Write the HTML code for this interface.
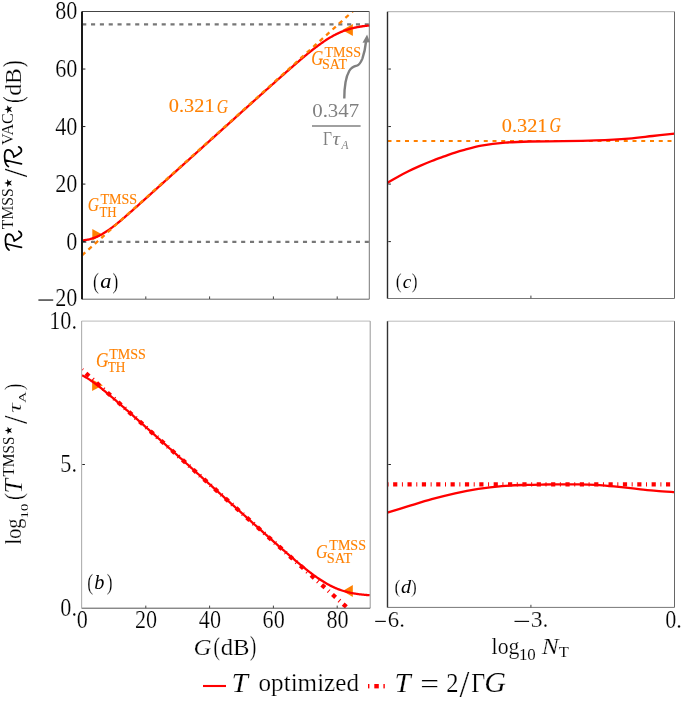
<!DOCTYPE html><html><head><meta charset="utf-8"><style>html,body{margin:0;padding:0;background:#fff;overflow:hidden}svg{display:block;will-change:transform}text{font-family:"Liberation Serif",serif}text.k{stroke:#fff;stroke-width:0.22px}text.k2{stroke:#fff;stroke-width:0.08px}text.o{stroke:#ff8000;stroke-width:0.1px}</style></head><body>
<svg width="685" height="707" viewBox="0 0 685 707">
<rect width="685" height="707" fill="#fff"/>
<defs>
<clipPath id="ca"><rect x="82" y="11.5" width="287.8" height="287.5"/></clipPath>
<clipPath id="cb"><rect x="82" y="321.3" width="288.2" height="286.9"/></clipPath>
<clipPath id="cc"><rect x="387.4" y="11.5" width="287.2" height="286.8"/></clipPath>
<clipPath id="cd"><rect x="387.4" y="321.3" width="287.2" height="286.2"/></clipPath>
</defs>
<g clip-path="url(#ca)">
<path d="M92.3,229 L92.3,240.5 L102.8,234.75 Z" fill="#ff8000"/>
<path d="M342.3,29.9 L352.9,23.9 L352.9,35.9 Z" fill="#ff8000"/>
<line x1="82.2" y1="24.45" x2="370" y2="24.45" stroke="#777" stroke-width="2.2" stroke-dasharray="4.1 4.73"/>
<line x1="82.2" y1="241.85" x2="370" y2="241.85" stroke="#777" stroke-width="2.1" stroke-dasharray="4.1 4.73"/>
<path d="M82,240.41 L82.8,240.36 L83.59,240.29 L84.39,240.19 L85.19,240.09 L85.99,239.96 L86.78,239.83 L87.58,239.67 L88.38,239.51 L89.18,239.32 L89.97,239.13 L90.77,238.91 L91.57,238.69 L92.37,238.44 L93.16,238.18 L93.96,237.9 L94.76,237.61 L95.56,237.3 L96.36,236.97 L97.15,236.63 L97.95,236.27 L98.75,235.89 L99.55,235.5 L100.34,235.09 L101.14,234.67 L101.94,234.23 L102.73,233.77 L103.53,233.3 L104.33,232.82 L105.13,232.32 L105.92,231.81 L106.72,231.29 L107.52,230.75 L108.32,230.2 L109.11,229.64 L109.91,229.07 L110.71,228.49 L111.51,227.91 L112.31,227.31 L113.1,226.7 L113.9,226.08 L114.7,225.46 L115.5,224.83 L116.29,224.2 L117.09,223.55 L117.89,222.9 L118.69,222.25 L119.48,221.59 L120.28,220.93 L121.08,220.26 L121.88,219.58 L122.67,218.91 L123.47,218.23 L124.27,217.55 L125.06,216.86 L125.86,216.17 L126.66,215.48 L127.46,214.78 L128.25,214.09 L129.05,213.39 L129.85,212.69 L130.65,211.99 L131.44,211.28 L132.24,210.58 L133.04,209.87 L133.84,209.17 L134.63,208.46 L135.43,207.75 L136.23,207.04 L137.03,206.33 L137.82,205.61 L138.62,204.9 L139.42,204.19 L140.22,203.47 L141.01,202.76 L141.81,202.04 L142.61,201.33 L143.41,200.61 L144.2,199.9 L145,199.18 L145.8,198.46 L146.6,197.75 L147.39,197.03 L148.19,196.31 L148.99,195.59 L149.79,194.87 L150.58,194.16 L151.38,193.44 L152.18,192.72 L152.98,192 L153.78,191.28 L154.57,190.56 L155.37,189.84 L156.17,189.13 L156.97,188.41 L157.76,187.69 L158.56,186.97 L159.36,186.25 L160.16,185.53 L160.95,184.81 L161.75,184.09 L162.55,183.37 L163.34,182.65 L164.14,181.93 L164.94,181.22 L165.74,180.5 L166.53,179.78 L167.33,179.06 L168.13,178.34 L168.93,177.62 L169.72,176.9 L170.52,176.18 L171.32,175.46 L172.12,174.74 L172.91,174.02 L173.71,173.3 L174.51,172.58 L175.31,171.86 L176.11,171.15 L176.9,170.43 L177.7,169.71 L178.5,168.99 L179.3,168.27 L180.09,167.55 L180.89,166.83 L181.69,166.11 L182.49,165.39 L183.28,164.67 L184.08,163.95 L184.88,163.23 L185.68,162.51 L186.47,161.8 L187.27,161.08 L188.07,160.36 L188.87,159.64 L189.66,158.92 L190.46,158.2 L191.26,157.48 L192.06,156.76 L192.85,156.04 L193.65,155.32 L194.45,154.6 L195.25,153.88 L196.04,153.17 L196.84,152.45 L197.64,151.73 L198.44,151.01 L199.23,150.29 L200.03,149.57 L200.83,148.85 L201.62,148.13 L202.42,147.41 L203.22,146.69 L204.02,145.98 L204.81,145.26 L205.61,144.54 L206.41,143.82 L207.21,143.1 L208,142.38 L208.8,141.66 L209.6,140.94 L210.4,140.22 L211.19,139.5 L211.99,138.79 L212.79,138.07 L213.59,137.35 L214.38,136.63 L215.18,135.91 L215.98,135.19 L216.78,134.47 L217.57,133.75 L218.37,133.03 L219.17,132.31 L219.97,131.6 L220.76,130.88 L221.56,130.16 L222.36,129.44 L223.16,128.72 L223.95,128 L224.75,127.28 L225.55,126.56 L226.35,125.84 L227.15,125.13 L227.94,124.41 L228.74,123.69 L229.54,122.97 L230.34,122.25 L231.13,121.53 L231.93,120.81 L232.73,120.09 L233.53,119.38 L234.32,118.66 L235.12,117.94 L235.92,117.22 L236.72,116.5 L237.51,115.78 L238.31,115.06 L239.11,114.35 L239.91,113.63 L240.7,112.91 L241.5,112.19 L242.3,111.47 L243.09,110.75 L243.89,110.04 L244.69,109.32 L245.49,108.6 L246.28,107.88 L247.08,107.16 L247.88,106.45 L248.68,105.73 L249.47,105.01 L250.27,104.29 L251.07,103.57 L251.87,102.86 L252.66,102.14 L253.46,101.42 L254.26,100.7 L255.06,99.99 L255.85,99.27 L256.65,98.55 L257.45,97.83 L258.25,97.12 L259.04,96.4 L259.84,95.68 L260.64,94.97 L261.44,94.25 L262.24,93.53 L263.03,92.82 L263.83,92.1 L264.63,91.39 L265.42,90.67 L266.22,89.96 L267.02,89.24 L267.82,88.53 L268.62,87.81 L269.41,87.1 L270.21,86.38 L271.01,85.67 L271.81,84.95 L272.6,84.24 L273.4,83.53 L274.2,82.82 L275,82.1 L275.79,81.39 L276.59,80.68 L277.39,79.97 L278.19,79.26 L278.98,78.55 L279.78,77.84 L280.58,77.13 L281.38,76.42 L282.17,75.71 L282.97,75.01 L283.77,74.3 L284.56,73.6 L285.36,72.89 L286.16,72.19 L286.96,71.48 L287.75,70.78 L288.55,70.08 L289.35,69.38 L290.15,68.68 L290.94,67.98 L291.74,67.29 L292.54,66.59 L293.34,65.9 L294.13,65.2 L294.93,64.51 L295.73,63.82 L296.53,63.13 L297.32,62.45 L298.12,61.76 L298.92,61.08 L299.72,60.4 L300.51,59.72 L301.31,59.05 L302.11,58.37 L302.91,57.7 L303.7,57.03 L304.5,56.37 L305.3,55.7 L306.1,55.04 L306.89,54.39 L307.69,53.73 L308.49,53.08 L309.29,52.44 L310.09,51.8 L310.88,51.16 L311.68,50.52 L312.48,49.89 L313.27,49.27 L314.07,48.65 L314.87,48.03 L315.67,47.42 L316.47,46.82 L317.26,46.22 L318.06,45.63 L318.86,45.04 L319.65,44.46 L320.45,43.89 L321.25,43.32 L322.05,42.76 L322.85,42.21 L323.64,41.66 L324.44,41.12 L325.24,40.59 L326.03,40.07 L326.83,39.56 L327.63,39.05 L328.43,38.56 L329.23,38.07 L330.02,37.59 L330.82,37.12 L331.62,36.66 L332.41,36.21 L333.21,35.77 L334.01,35.34 L334.81,34.92 L335.61,34.51 L336.4,34.11 L337.2,33.72 L338,33.35 L338.8,32.98 L339.59,32.62 L340.39,32.27 L341.19,31.93 L341.99,31.6 L342.78,31.29 L343.58,30.98 L344.38,30.68 L345.18,30.4 L345.97,30.12 L346.77,29.85 L347.57,29.59 L348.37,29.35 L349.16,29.11 L349.96,28.88 L350.76,28.66 L351.56,28.44 L352.35,28.24 L353.15,28.04 L353.95,27.86 L354.75,27.68 L355.54,27.5 L356.34,27.34 L357.14,27.18 L357.94,27.03 L358.73,26.89 L359.53,26.75 L360.33,26.62 L361.12,26.5 L361.92,26.38 L362.72,26.26 L363.52,26.15 L364.31,26.05 L365.11,25.95 L365.91,25.86 L366.71,25.77 L367.5,25.69 L368.3,25.61 L369.1,25.53 L369.74,25.47" fill="none" stroke="#ff0000" stroke-width="2.3" stroke-linejoin="round"/>
<line x1="82" y1="255.4" x2="362.72" y2="2.32" stroke="#ff8000" stroke-width="2.3" stroke-dasharray="4.4 4.25"/>
</g>
<g clip-path="url(#cb)">
<path d="M92.1,379.6 L92.1,391.1 L102.9,385.35 Z" fill="#ff8000"/>
<path d="M342.7,590.9 L352.8,585.1 L352.8,597 Z" fill="#ff8000"/>
<line x1="82" y1="369.8" x2="348.11" y2="608.5" stroke="#ff0000" stroke-width="4.3" stroke-dasharray="1 4.6 4.2 4.6" stroke-dashoffset="0.3"/>
<path d="M82,375.3 L82.8,375.68 L83.59,376.08 L84.39,376.51 L85.19,376.94 L85.99,377.4 L86.78,377.87 L87.58,378.36 L88.38,378.86 L89.18,379.37 L89.97,379.9 L90.77,380.43 L91.57,380.98 L92.37,381.54 L93.16,382.11 L93.96,382.68 L94.76,383.27 L95.56,383.86 L96.36,384.46 L97.15,385.07 L97.95,385.68 L98.75,386.3 L99.55,386.93 L100.34,387.56 L101.14,388.2 L101.94,388.84 L102.73,389.48 L103.53,390.13 L104.33,390.79 L105.13,391.44 L105.92,392.1 L106.72,392.77 L107.52,393.44 L108.32,394.11 L109.11,394.78 L109.91,395.45 L110.71,396.13 L111.51,396.81 L112.31,397.5 L113.1,398.18 L113.9,398.87 L114.7,399.55 L115.5,400.24 L116.29,400.93 L117.09,401.63 L117.89,402.32 L118.69,403.02 L119.48,403.71 L120.28,404.41 L121.08,405.11 L121.88,405.81 L122.67,406.51 L123.47,407.21 L124.27,407.91 L125.06,408.62 L125.86,409.32 L126.66,410.03 L127.46,410.73 L128.25,411.44 L129.05,412.14 L129.85,412.85 L130.65,413.56 L131.44,414.27 L132.24,414.97 L133.04,415.68 L133.84,416.39 L134.63,417.1 L135.43,417.81 L136.23,418.52 L137.03,419.23 L137.82,419.94 L138.62,420.66 L139.42,421.37 L140.22,422.08 L141.01,422.79 L141.81,423.5 L142.61,424.21 L143.41,424.93 L144.2,425.64 L145,426.35 L145.8,427.07 L146.6,427.78 L147.39,428.49 L148.19,429.21 L148.99,429.92 L149.79,430.63 L150.58,431.35 L151.38,432.06 L152.18,432.77 L152.98,433.49 L153.78,434.2 L154.57,434.92 L155.37,435.63 L156.17,436.34 L156.97,437.06 L157.76,437.77 L158.56,438.49 L159.36,439.2 L160.16,439.92 L160.95,440.63 L161.75,441.35 L162.55,442.06 L163.34,442.78 L164.14,443.49 L164.94,444.21 L165.74,444.92 L166.53,445.64 L167.33,446.35 L168.13,447.06 L168.93,447.78 L169.72,448.49 L170.52,449.21 L171.32,449.92 L172.12,450.64 L172.91,451.36 L173.71,452.07 L174.51,452.79 L175.31,453.5 L176.11,454.22 L176.9,454.93 L177.7,455.65 L178.5,456.36 L179.3,457.08 L180.09,457.79 L180.89,458.51 L181.69,459.22 L182.49,459.94 L183.28,460.65 L184.08,461.37 L184.88,462.08 L185.68,462.8 L186.47,463.51 L187.27,464.23 L188.07,464.94 L188.87,465.66 L189.66,466.37 L190.46,467.09 L191.26,467.8 L192.06,468.52 L192.85,469.24 L193.65,469.95 L194.45,470.67 L195.25,471.38 L196.04,472.1 L196.84,472.81 L197.64,473.53 L198.44,474.24 L199.23,474.96 L200.03,475.67 L200.83,476.39 L201.62,477.1 L202.42,477.82 L203.22,478.53 L204.02,479.25 L204.81,479.96 L205.61,480.68 L206.41,481.39 L207.21,482.11 L208,482.83 L208.8,483.54 L209.6,484.26 L210.4,484.97 L211.19,485.69 L211.99,486.4 L212.79,487.12 L213.59,487.83 L214.38,488.55 L215.18,489.26 L215.98,489.98 L216.78,490.69 L217.57,491.41 L218.37,492.12 L219.17,492.84 L219.97,493.55 L220.76,494.27 L221.56,494.98 L222.36,495.7 L223.16,496.41 L223.95,497.13 L224.75,497.84 L225.55,498.56 L226.35,499.27 L227.15,499.99 L227.94,500.7 L228.74,501.42 L229.54,502.13 L230.34,502.85 L231.13,503.56 L231.93,504.28 L232.73,504.99 L233.53,505.71 L234.32,506.42 L235.12,507.14 L235.92,507.85 L236.72,508.57 L237.51,509.28 L238.31,510 L239.11,510.71 L239.91,511.43 L240.7,512.14 L241.5,512.86 L242.3,513.57 L243.09,514.29 L243.89,515 L244.69,515.71 L245.49,516.43 L246.28,517.14 L247.08,517.86 L247.88,518.57 L248.68,519.28 L249.47,520 L250.27,520.71 L251.07,521.43 L251.87,522.14 L252.66,522.85 L253.46,523.57 L254.26,524.28 L255.06,524.99 L255.85,525.7 L256.65,526.42 L257.45,527.13 L258.25,527.84 L259.04,528.56 L259.84,529.27 L260.64,529.98 L261.44,530.69 L262.24,531.4 L263.03,532.11 L263.83,532.83 L264.63,533.54 L265.42,534.25 L266.22,534.96 L267.02,535.67 L267.82,536.38 L268.62,537.09 L269.41,537.79 L270.21,538.5 L271.01,539.21 L271.81,539.92 L272.6,540.63 L273.4,541.33 L274.2,542.04 L275,542.75 L275.79,543.45 L276.59,544.16 L277.39,544.86 L278.19,545.56 L278.98,546.27 L279.78,546.97 L280.58,547.67 L281.38,548.37 L282.17,549.07 L282.97,549.77 L283.77,550.47 L284.56,551.16 L285.36,551.86 L286.16,552.55 L286.96,553.25 L287.75,553.94 L288.55,554.63 L289.35,555.32 L290.15,556.01 L290.94,556.69 L291.74,557.38 L292.54,558.06 L293.34,558.74 L294.13,559.42 L294.93,560.1 L295.73,560.77 L296.53,561.45 L297.32,562.12 L298.12,562.78 L298.92,563.45 L299.72,564.11 L300.51,564.77 L301.31,565.43 L302.11,566.08 L302.91,566.73 L303.7,567.38 L304.5,568.02 L305.3,568.66 L306.1,569.29 L306.89,569.92 L307.69,570.55 L308.49,571.17 L309.29,571.79 L310.09,572.4 L310.88,573.01 L311.68,573.61 L312.48,574.21 L313.27,574.8 L314.07,575.38 L314.87,575.96 L315.67,576.53 L316.47,577.09 L317.26,577.65 L318.06,578.2 L318.86,578.74 L319.65,579.28 L320.45,579.81 L321.25,580.33 L322.05,580.84 L322.85,581.34 L323.64,581.83 L324.44,582.32 L325.24,582.79 L326.03,583.26 L326.83,583.72 L327.63,584.16 L328.43,584.6 L329.23,585.03 L330.02,585.45 L330.82,585.86 L331.62,586.25 L332.41,586.64 L333.21,587.02 L334.01,587.39 L334.81,587.74 L335.61,588.09 L336.4,588.43 L337.2,588.75 L338,589.07 L338.8,589.37 L339.59,589.67 L340.39,589.95 L341.19,590.23 L341.99,590.5 L342.78,590.75 L343.58,591 L344.38,591.24 L345.18,591.47 L345.97,591.69 L346.77,591.9 L347.57,592.1 L348.37,592.3 L349.16,592.48 L349.96,592.66 L350.76,592.83 L351.56,593 L352.35,593.16 L353.15,593.31 L353.95,593.45 L354.75,593.59 L355.54,593.72 L356.34,593.84 L357.14,593.96 L357.94,594.07 L358.73,594.18 L359.53,594.28 L360.33,594.38 L361.12,594.47 L361.92,594.56 L362.72,594.64 L363.52,594.72 L364.31,594.8 L365.11,594.87 L365.91,594.94 L366.71,595 L367.5,595.07 L368.3,595.12 L369.1,595.18 L369.74,595.22" fill="none" stroke="#ff0000" stroke-width="2.3" stroke-linejoin="round"/>
</g>
<g clip-path="url(#cc)">
<line x1="387.5" y1="141" x2="675" y2="141" stroke="#ff8000" stroke-width="2.2" stroke-dasharray="4 4.75"/>
<path d="M387.3,183 C388.87,182.07 393.18,179.35 396.7,177.4 C400.22,175.45 404.52,173.22 408.4,171.3 C412.28,169.38 416.12,167.62 420,165.9 C423.88,164.18 427.8,162.53 431.7,161 C435.6,159.47 439.5,158.1 443.4,156.7 C447.3,155.3 451.6,153.73 455.1,152.6 C458.6,151.47 460.03,151.05 464.4,149.9 C468.77,148.75 474.47,146.92 481.3,145.7 C488.13,144.48 497.28,143.3 505.4,142.6 C513.52,141.9 520.43,141.73 530,141.5 C539.57,141.27 551.85,141.38 562.8,141.2 C573.75,141.02 584.75,140.83 595.7,140.4 C606.65,139.97 619.02,139.33 628.5,138.6 C637.98,137.87 644.92,136.83 652.6,136 C660.28,135.17 670.93,134 674.6,133.6" fill="none" stroke="#ff0000" stroke-width="2.3"/>
</g>
<g clip-path="url(#cd)">
<line x1="387.55" y1="484.3" x2="675" y2="484.3" stroke="#ff0000" stroke-width="4.3" stroke-dasharray="1 4.58 4.2 4.58"/>
<path d="M387.3,512.7 C390.82,511.62 401,508.45 408.4,506.2 C415.8,503.95 423.92,501.35 431.7,499.2 C439.48,497.05 447.32,495.02 455.1,493.3 C462.88,491.58 470.62,490.1 478.4,488.9 C486.18,487.7 494,486.77 501.8,486.1 C509.6,485.43 518,485.17 525.2,484.9 C532.4,484.63 539.2,484.58 545,484.5 C550.8,484.42 554.58,484.42 560,484.4 C565.42,484.38 571.67,484.33 577.5,484.4 C583.33,484.47 589.75,484.53 595,484.8 C600.25,485.07 604.62,485.6 609,486 C613.38,486.4 616.33,486.68 621.3,487.2 C626.27,487.72 632.95,488.48 638.8,489.1 C644.65,489.72 650.43,490.4 656.4,490.9 C662.37,491.4 671.57,491.9 674.6,492.1" fill="none" stroke="#ff0000" stroke-width="2.3"/>
</g>
<line x1="82" y1="11.5" x2="369.3" y2="11.5" stroke="#444" stroke-width="1"/>
<line x1="369.3" y1="11.5" x2="369.3" y2="299.2" stroke="#777" stroke-width="1"/>
<line x1="82" y1="299.2" x2="369.3" y2="299.2" stroke="#666" stroke-width="1"/>
<line x1="82" y1="11.5" x2="82" y2="299.2" stroke="#1a1a1a" stroke-width="2"/>
<line x1="81.6" y1="321.1" x2="370.2" y2="321.1" stroke="#bbb" stroke-width="1"/>
<line x1="370.2" y1="321.1" x2="370.2" y2="608.2" stroke="#999" stroke-width="1"/>
<line x1="81.6" y1="608.2" x2="370.2" y2="608.2" stroke="#555" stroke-width="1"/>
<line x1="81.6" y1="321.1" x2="81.6" y2="608.2" stroke="#b0b0b0" stroke-width="1.1"/>
<line x1="387.5" y1="11.7" x2="674.5" y2="11.7" stroke="#aaa" stroke-width="1"/>
<line x1="674.5" y1="11.7" x2="674.5" y2="298.5" stroke="#666" stroke-width="1"/>
<line x1="387.5" y1="298.5" x2="674.5" y2="298.5" stroke="#777" stroke-width="1"/>
<line x1="387.5" y1="11.7" x2="387.5" y2="298.5" stroke="#2a2a2a" stroke-width="1.4"/>
<line x1="387.5" y1="321.2" x2="674.5" y2="321.2" stroke="#bbb" stroke-width="1"/>
<line x1="674.5" y1="321.2" x2="674.5" y2="607.4" stroke="#666" stroke-width="1"/>
<line x1="387.5" y1="607.4" x2="674.5" y2="607.4" stroke="#777" stroke-width="1"/>
<line x1="387.5" y1="321.2" x2="387.5" y2="607.4" stroke="#333" stroke-width="1.4"/>
<line x1="82.8" y1="69.04" x2="85.4" y2="69.04" stroke="#222" stroke-width="1"/>
<line x1="388.3" y1="69.04" x2="390.9" y2="69.04" stroke="#222" stroke-width="1"/>
<line x1="82.8" y1="126.56" x2="85.4" y2="126.56" stroke="#222" stroke-width="1"/>
<line x1="388.3" y1="126.56" x2="390.9" y2="126.56" stroke="#222" stroke-width="1"/>
<line x1="82.8" y1="184.08" x2="85.4" y2="184.08" stroke="#222" stroke-width="1"/>
<line x1="388.3" y1="184.08" x2="390.9" y2="184.08" stroke="#222" stroke-width="1"/>
<line x1="82.8" y1="241.6" x2="85.4" y2="241.6" stroke="#222" stroke-width="1"/>
<line x1="388.3" y1="241.6" x2="390.9" y2="241.6" stroke="#222" stroke-width="1"/>
<line x1="82.3" y1="464.5" x2="84.9" y2="464.5" stroke="#222" stroke-width="1"/>
<line x1="388.3" y1="464.5" x2="390.9" y2="464.5" stroke="#222" stroke-width="1"/>
<line x1="145.8" y1="299" x2="145.8" y2="296.4" stroke="#444" stroke-width="1"/>
<line x1="145.8" y1="608.2" x2="145.8" y2="605.6" stroke="#444" stroke-width="1"/>
<line x1="209.6" y1="299" x2="209.6" y2="296.4" stroke="#444" stroke-width="1"/>
<line x1="209.6" y1="608.2" x2="209.6" y2="605.6" stroke="#444" stroke-width="1"/>
<line x1="273.4" y1="299" x2="273.4" y2="296.4" stroke="#444" stroke-width="1"/>
<line x1="273.4" y1="608.2" x2="273.4" y2="605.6" stroke="#444" stroke-width="1"/>
<line x1="337.2" y1="299" x2="337.2" y2="296.4" stroke="#444" stroke-width="1"/>
<line x1="337.2" y1="608.2" x2="337.2" y2="605.6" stroke="#444" stroke-width="1"/>
<line x1="530.91" y1="298.2" x2="530.91" y2="295.6" stroke="#444" stroke-width="1"/>
<line x1="530.91" y1="607.4" x2="530.91" y2="604.8" stroke="#444" stroke-width="1"/>
<text class="k" transform="translate(77.4,19.05) scale(0.905,1)" font-size="24.5" text-anchor="end">80</text>
<text class="k" transform="translate(77.4,76.5) scale(0.905,1)" font-size="24.5" text-anchor="end">60</text>
<text class="k" transform="translate(77.4,134.5) scale(0.905,1)" font-size="24.5" text-anchor="end">40</text>
<text class="k" transform="translate(77.4,192.2) scale(0.905,1)" font-size="24.5" text-anchor="end">20</text>
<text class="k" transform="translate(77.4,249.5) scale(0.905,1)" font-size="24.5" text-anchor="end">0</text>
<text class="k" transform="translate(77.4,306) scale(0.905,1)" font-size="24.5" text-anchor="end">20</text>
<line x1="38.4" y1="300.05" x2="53.2" y2="300.05" stroke="#111" stroke-width="1.2"/>
<text class="k" transform="translate(77,329) scale(0.905,1)" font-size="24.5" text-anchor="end">10.</text>
<text class="k" transform="translate(77,472.3) scale(0.905,1)" font-size="24.5" text-anchor="end">5.</text>
<text class="k" transform="translate(77,616) scale(0.905,1)" font-size="24.5" text-anchor="end">0.</text>
<text class="k" transform="translate(82.3,628.4) scale(0.905,1)" font-size="24.5" text-anchor="middle">0</text>
<text class="k" transform="translate(146.1,628.4) scale(0.905,1)" font-size="24.5" text-anchor="middle">20</text>
<text class="k" transform="translate(209.9,628.4) scale(0.905,1)" font-size="24.5" text-anchor="middle">40</text>
<text class="k" transform="translate(273.7,628.4) scale(0.905,1)" font-size="24.5" text-anchor="middle">60</text>
<text class="k" transform="translate(337.5,628.4) scale(0.905,1)" font-size="24.5" text-anchor="middle">80</text>
<line x1="375.2" y1="621.4" x2="385.8" y2="621.4" stroke="#111" stroke-width="1.2"/>
<text class="k" x="387.72" y="626.89" font-size="23.7" font-family='"Liberation Serif",serif' fill="#000" textLength="17.11" lengthAdjust="spacingAndGlyphs">6.</text>
<line x1="514.5" y1="621.4" x2="529.1" y2="621.4" stroke="#111" stroke-width="1.2"/>
<text class="k" x="530.77" y="626.89" font-size="23.7" font-family='"Liberation Serif",serif' fill="#000" textLength="17.72" lengthAdjust="spacingAndGlyphs">3.</text>
<text class="k" transform="translate(673.6,628) scale(0.905,1)" font-size="24.5" text-anchor="middle">0.</text>
<text class="k" x="92.96" y="288.8" font-size="22.09" font-family='"Liberation Serif",serif' fill="#000" textLength="5.88" lengthAdjust="spacingAndGlyphs">(</text>
<text x="100.18" y="288.35" font-size="20" font-family='"Liberation Serif",serif' font-style="italic" fill="#000" textLength="11.16" lengthAdjust="spacingAndGlyphs">a</text>
<text class="k" x="112.43" y="288.86" font-size="22.33" font-family='"Liberation Serif",serif' fill="#000" textLength="5.76" lengthAdjust="spacingAndGlyphs">)</text>
<text class="k" x="87.16" y="589.7" font-size="22.09" font-family='"Liberation Serif",serif' fill="#000" textLength="5.88" lengthAdjust="spacingAndGlyphs">(</text>
<text x="94.34" y="589.14" font-size="20.85" font-family='"Liberation Serif",serif' font-style="italic" fill="#000" textLength="10.12" lengthAdjust="spacingAndGlyphs">b</text>
<text class="k" x="106.63" y="589.76" font-size="22.33" font-family='"Liberation Serif",serif' fill="#000" textLength="5.76" lengthAdjust="spacingAndGlyphs">)</text>
<text class="k" x="395.86" y="288.29" font-size="21.21" font-family='"Liberation Serif",serif' fill="#000" textLength="5.88" lengthAdjust="spacingAndGlyphs">(</text>
<text x="402.77" y="288.06" font-size="18.96" font-family='"Liberation Serif",serif' font-style="italic" fill="#000" textLength="8.55" lengthAdjust="spacingAndGlyphs">c</text>
<text class="k" x="411.73" y="288.35" font-size="21.44" font-family='"Liberation Serif",serif' fill="#000" textLength="5.76" lengthAdjust="spacingAndGlyphs">)</text>
<text class="k" x="394.46" y="592.62" font-size="19.67" font-family='"Liberation Serif",serif' fill="#000" textLength="5.88" lengthAdjust="spacingAndGlyphs">(</text>
<text x="401.04" y="592.75" font-size="19.86" font-family='"Liberation Serif",serif' font-style="italic" fill="#000" textLength="10.11" lengthAdjust="spacingAndGlyphs">d</text>
<text class="k" x="411.03" y="592.67" font-size="19.89" font-family='"Liberation Serif",serif' fill="#000" textLength="5.76" lengthAdjust="spacingAndGlyphs">)</text>
<text class="o" x="168.84" y="112.46" font-size="19.26" font-family='"Liberation Serif",serif' fill="#ff8000" textLength="45.73" lengthAdjust="spacingAndGlyphs">0.321</text>
<text class="o" x="216.69" y="112.55" font-size="19.55" font-family='"Liberation Serif",serif' font-style="italic" fill="#ff8000" textLength="11.31" lengthAdjust="spacingAndGlyphs">G</text>
<text class="o" x="501.74" y="132.25" font-size="19.71" font-family='"Liberation Serif",serif' fill="#ff8000" textLength="45.73" lengthAdjust="spacingAndGlyphs">0.321</text>
<text class="o" x="549.58" y="132.35" font-size="20" font-family='"Liberation Serif",serif' font-style="italic" fill="#ff8000" textLength="11.42" lengthAdjust="spacingAndGlyphs">G</text>
<text class="o" x="311.29" y="64.79" font-size="20.9" font-family='"Liberation Serif",serif' font-style="italic" fill="#ff8000" textLength="11.98" lengthAdjust="spacingAndGlyphs">G</text>
<text class="o" x="324.52" y="56.56" font-size="14.48" font-family='"Liberation Serif",serif' fill="#ff8000" textLength="36.45" lengthAdjust="spacingAndGlyphs">TMSS</text>
<text class="o" x="321.99" y="68.86" font-size="14.48" font-family='"Liberation Serif",serif' fill="#ff8000" textLength="25" lengthAdjust="spacingAndGlyphs">SAT</text>
<text class="o" x="87.84" y="211.41" font-size="19.1" font-family='"Liberation Serif",serif' font-style="italic" fill="#ff8000" textLength="11.31" lengthAdjust="spacingAndGlyphs">G</text>
<text class="o" x="100.52" y="203.76" font-size="14.03" font-family='"Liberation Serif",serif' fill="#ff8000" textLength="36.66" lengthAdjust="spacingAndGlyphs">TMSS</text>
<text class="o" x="99.54" y="216.7" font-size="15.11" font-family='"Liberation Serif",serif' fill="#ff8000" textLength="17.12" lengthAdjust="spacingAndGlyphs">TH</text>
<text class="o" x="96.06" y="366.8" font-size="20.3" font-family='"Liberation Serif",serif' font-style="italic" fill="#ff8000" textLength="12.32" lengthAdjust="spacingAndGlyphs">G</text>
<text class="o" x="109.22" y="358.85" font-size="14.78" font-family='"Liberation Serif",serif' fill="#ff8000" textLength="36.66" lengthAdjust="spacingAndGlyphs">TMSS</text>
<text class="o" x="107.73" y="371.8" font-size="15.11" font-family='"Liberation Serif",serif' fill="#ff8000" textLength="17.74" lengthAdjust="spacingAndGlyphs">TH</text>
<text class="o" x="315.92" y="557.61" font-size="19.1" font-family='"Liberation Serif",serif' font-style="italic" fill="#ff8000" textLength="11.53" lengthAdjust="spacingAndGlyphs">G</text>
<text class="o" x="329.32" y="549.86" font-size="14.33" font-family='"Liberation Serif",serif' fill="#ff8000" textLength="36.66" lengthAdjust="spacingAndGlyphs">TMSS</text>
<text class="o" x="326.77" y="562.85" font-size="15.07" font-family='"Liberation Serif",serif' fill="#ff8000" textLength="25.52" lengthAdjust="spacingAndGlyphs">SAT</text>
<text x="312.22" y="116.67" font-size="18.82" font-family='"Liberation Serif",serif' fill="#808080" textLength="46.96" lengthAdjust="spacingAndGlyphs">0.347</text>
<line x1="312" y1="126.1" x2="360.6" y2="126.1" stroke="#808080" stroke-width="1.5"/>
<text x="322.88" y="145.25" font-size="19.39" font-family='"Liberation Serif",serif' fill="#808080" textLength="8.98" lengthAdjust="spacingAndGlyphs">Γ</text>
<text x="332.43" y="145.05" font-size="19.57" font-family='"Liberation Serif",serif' font-style="italic" fill="#808080" textLength="7.45" lengthAdjust="spacingAndGlyphs">τ</text>
<text x="341.47" y="149.35" font-size="13.48" font-family='"Liberation Serif",serif' font-style="italic" fill="#808080" textLength="6.93" lengthAdjust="spacingAndGlyphs">A</text>
<path d="M344.3,98.6 C344.3,88 345.5,77.5 349.2,71 C351,68 354,66.3 356.8,65.7 C359.2,65 361,62 362.4,58.6 C364,54 365.4,47.5 366.1,41" fill="none" stroke="#808080" stroke-width="2.4"/>
<path d="M367.1,34.4 L362.5,42.8 L369.9,42.2 Z" fill="#808080"/>
<text class="k" x="193.58" y="655.11" font-size="24.03" font-family='"Liberation Serif",serif' font-style="italic" fill="#000" textLength="18.03" lengthAdjust="spacingAndGlyphs">G</text>
<text class="k" x="213.49" y="655.13" font-size="26.15" font-family='"Liberation Serif",serif' fill="#000" textLength="6.4" lengthAdjust="spacingAndGlyphs">(</text>
<text class="k" x="220.68" y="654.91" font-size="23.69" font-family='"Liberation Serif",serif' fill="#000" textLength="28.93" lengthAdjust="spacingAndGlyphs">dB</text>
<text class="k" x="250.08" y="655.2" font-size="26.44" font-family='"Liberation Serif",serif' fill="#000" textLength="6.28" lengthAdjust="spacingAndGlyphs">)</text>
<text class="k" x="491.61" y="654.01" font-size="22.53" font-family='"Liberation Serif",serif' fill="#000" textLength="27.82" lengthAdjust="spacingAndGlyphs">log</text>
<text class="k2" x="518.93" y="660.19" font-size="16.3" font-family='"Liberation Serif",serif' fill="#000" textLength="16.9" lengthAdjust="spacingAndGlyphs">10</text>
<text class="k" x="541.78" y="654.45" font-size="23.36" font-family='"Liberation Serif",serif' font-style="italic" fill="#000" textLength="16.95" lengthAdjust="spacingAndGlyphs">N</text>
<text class="k2" x="558.82" y="657.35" font-size="14.5" font-family='"Liberation Serif",serif' fill="#000" textLength="10.09" lengthAdjust="spacingAndGlyphs">T</text>
<line x1="203" y1="686" x2="226" y2="686" stroke="#ff0000" stroke-width="2.1"/>
<text class="k" x="231.42" y="691.75" font-size="26.56" font-family='"Liberation Serif",serif' font-style="italic" fill="#000" textLength="16.48" lengthAdjust="spacingAndGlyphs">T</text>
<text class="k" x="258.55" y="691.15" font-size="24.18" font-family='"Liberation Serif",serif' fill="#000" textLength="100.43" lengthAdjust="spacingAndGlyphs">optimized</text>
<rect x="368" y="684" width="1.4" height="4.4" fill="#ff0000"/>
<rect x="374.3" y="684" width="4.5" height="4.4" fill="#ff0000"/>
<rect x="383.4" y="684" width="1.4" height="4.4" fill="#ff0000"/>
<text class="k" x="394.56" y="691.85" font-size="27.02" font-family='"Liberation Serif",serif' font-style="italic" fill="#000" textLength="16.18" lengthAdjust="spacingAndGlyphs">T</text>
<text class="k" x="420.18" y="693.49" font-size="28" font-family='"Liberation Serif",serif' fill="#000" textLength="18.8" lengthAdjust="spacingAndGlyphs">=</text>
<text class="k" x="446.15" y="691.85" font-size="26.82" font-family='"Liberation Serif",serif' fill="#000" textLength="12.25" lengthAdjust="spacingAndGlyphs">2</text>
<text class="k" x="459.55" y="696.68" font-size="36.87" font-family='"Liberation Serif",serif' fill="#000" textLength="9.9" lengthAdjust="spacingAndGlyphs">/</text>
<text class="k" x="471.13" y="691.85" font-size="27.02" font-family='"Liberation Serif",serif' fill="#000" textLength="13.92" lengthAdjust="spacingAndGlyphs">Γ</text>
<text class="k" x="484.2" y="692.36" font-size="28.81" font-family='"Liberation Serif",serif' font-style="italic" fill="#000" textLength="21.72" lengthAdjust="spacingAndGlyphs">G</text>
<g transform="rotate(-90)">
<path d="M-250.1,9.1 Q-248.1,6.1 -244,5.7 M-243.8,5.9 Q-246,13.9 -247.4,21.5 M-243.8,5.7 C-239.1,4.9 -234,5.5 -234.2,8.9 C-234.4,11.9 -237.6,13.7 -240.8,14.3 M-241,14.1 C-239,16.9 -237.6,20.9 -235.5,21.4 C-233.6,21.8 -232,20.4 -231.2,18.8" fill="none" stroke="#000" stroke-width="1.7" stroke-linecap="round"/>
<text class="k2" x="-229.16" y="12.58" font-size="16.57" font-family='"Liberation Serif",serif' fill="#000" textLength="40.79" lengthAdjust="spacingAndGlyphs">TMSS</text>
<path d="M-183.05,4.2 L-182.09,7.18 L-178.96,7.17 L-181.5,9 L-180.52,11.98 L-183.05,10.13 L-185.58,11.98 L-184.6,9 L-187.14,7.17 L-184.01,7.18Z" fill="#000"/>
<text class="k" x="-177.15" y="26.51" font-size="34.33" font-family='"Liberation Serif",serif' fill="#000" textLength="8.79" lengthAdjust="spacingAndGlyphs">/</text>
<path d="M-166.62,8.46 Q-164.53,5.31 -160.22,4.89 M-160.01,5.1 Q-162.32,13.5 -163.79,21.48 M-160.01,4.89 C-155.07,4.05 -149.72,4.68 -149.93,8.25 C-150.14,11.4 -153.5,13.29 -156.86,13.92 M-157.07,13.71 C-154.97,16.65 -153.5,20.85 -151.29,21.38 C-149.3,21.79 -147.62,20.32 -146.78,18.64" fill="none" stroke="#000" stroke-width="1.7" stroke-linecap="round"/>
<text class="k2" x="-145.11" y="12.5" font-size="16.74" font-family='"Liberation Serif",serif' fill="#000" textLength="31.89" lengthAdjust="spacingAndGlyphs">VAC</text>
<path d="M-109.35,4.3 L-108.39,7.28 L-105.26,7.27 L-107.8,9.1 L-106.82,12.08 L-109.35,10.23 L-111.88,12.08 L-110.9,9.1 L-113.44,7.27 L-110.31,7.28Z" fill="#000"/>
<text class="k" x="-67.28" y="22" font-size="26.89" font-family='"Liberation Serif",serif' fill="#000" textLength="7.05" lengthAdjust="spacingAndGlyphs">)</text>
<text class="k" x="-95.88" y="21.22" font-size="22.7" font-family='"Liberation Serif",serif' fill="#000" textLength="27.64" lengthAdjust="spacingAndGlyphs">dB</text>
<text class="k" x="-102.95" y="21.93" font-size="26.59" font-family='"Liberation Serif",serif' fill="#000" textLength="6.66" lengthAdjust="spacingAndGlyphs">(</text>
<text class="k" x="-544.46" y="21.08" font-size="22.2" font-family='"Liberation Serif",serif' fill="#000" textLength="25.97" lengthAdjust="spacingAndGlyphs">log</text>
<text class="k2" x="-518.47" y="27.94" font-size="11.11" font-family='"Liberation Serif",serif' fill="#000" textLength="14.71" lengthAdjust="spacingAndGlyphs">10</text>
<text class="k" x="-499.97" y="22.22" font-size="25.27" font-family='"Liberation Serif",serif' fill="#000" textLength="6.79" lengthAdjust="spacingAndGlyphs">(</text>
<text class="k" x="-493.55" y="21.55" font-size="24.43" font-family='"Liberation Serif",serif' font-style="italic" fill="#000" textLength="14.56" lengthAdjust="spacingAndGlyphs">T</text>
<text class="k2" x="-476.56" y="13.58" font-size="17.46" font-family='"Liberation Serif",serif' fill="#000" textLength="40.17" lengthAdjust="spacingAndGlyphs">TMSS</text>
<path d="M-430.5,4.8 L-429.61,7.57 L-426.7,7.56 L-429.05,9.27 L-428.15,12.04 L-430.5,10.32 L-432.85,12.04 L-431.95,9.27 L-434.3,7.56 L-431.39,7.57Z" fill="#000"/>
<text class="k" x="-424.05" y="26.91" font-size="33.88" font-family='"Liberation Serif",serif' fill="#000" textLength="8.59" lengthAdjust="spacingAndGlyphs">/</text>
<text class="k" x="-412.73" y="20.67" font-size="18.09" font-family='"Liberation Serif",serif' font-style="italic" fill="#000" textLength="9.71" lengthAdjust="spacingAndGlyphs">τ</text>
<text class="k2" x="-403.01" y="25.75" font-size="9.55" font-family='"Liberation Serif",serif' fill="#000" textLength="11.58" lengthAdjust="spacingAndGlyphs">A</text>
<text class="k" x="-390.03" y="21.95" font-size="25.22" font-family='"Liberation Serif",serif' fill="#000" textLength="6.4" lengthAdjust="spacingAndGlyphs">)</text>
</g>
</svg></body></html>
